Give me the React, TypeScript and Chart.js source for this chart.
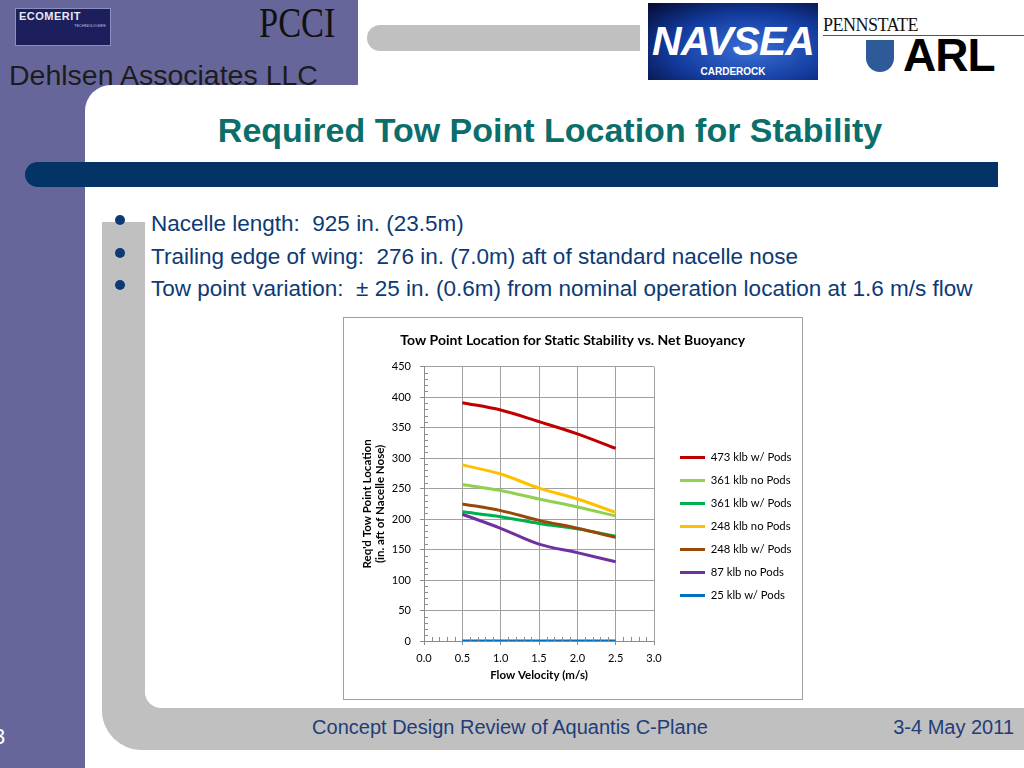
import React, { useEffect, useRef } from "react";
import { Chart, registerables } from "chart.js";

Chart.register(...registerables);

const velocities = [0.5, 1.0, 1.5, 2.0, 2.5];
const seriesNames = [
  "473 klb w/ Pods",
  "361 klb no Pods",
  "361 klb w/ Pods",
  "248 klb no Pods",
  "248 klb w/ Pods",
  "87 klb no Pods",
  "25 klb w/ Pods",
];
const s473wPods = [391, 379, 360, 340, 316];
const s361noPods = [257, 247, 233, 220, 205];
const s361wPods = [212, 204, 193, 184, 172];
const s248noPods = [289, 274, 251, 233, 211];
const s248wPods = [225, 214, 198, 185, 170];
const s87noPods = [208, 185, 159, 145, 130];
const s25wPods = [0, 0, 0, 0, 0];
const seriesValues = [s473wPods, s361noPods, s361wPods, s248noPods, s248wPods, s87noPods, s25wPods];
const seriesColors = ["#c00000", "#92d050", "#00b050", "#ffc000", "#984807", "#7030a0", "#0070c0"];

const chartTitle = "Tow Point Location for Static Stability vs. Net Buoyancy";
const yTitle = ["Req'd Tow Point Location", "(in. aft of Nacelle Nose)"];
const xTitle = "Flow Velocity (m/s)";

const bullets = [
  "Nacelle length:  925 in. (23.5m)",
  "Trailing edge of wing:  276 in. (7.0m) aft of standard nacelle nose",
  "Tow point variation:  \u00b1 25 in. (0.6m) from nominal operation location at 1.6 m/s flow",
];

const FONT = "Lato, 'Open Sans', sans-serif";

const minorTicks = {
  id: "minorTicks",
  afterDatasetsDraw(chart: any) {
    const { ctx, scales } = chart;
    const x = scales.x;
    const y = scales.y;
    ctx.save();
    ctx.strokeStyle = "#8c8c8c";
    ctx.lineWidth = 1;
    ctx.beginPath();
    for (let v = 0; v <= 450; v += 10) {
      if (v % 50 === 0) continue;
      const py = Math.round(y.getPixelForValue(v)) + 0.5;
      ctx.moveTo(x.left, py);
      ctx.lineTo(x.left + 4, py);
    }
    for (let i = 0; i <= 30; i++) {
      if (i % 5 === 0) continue;
      const px = Math.round(x.getPixelForValue(i / 10)) + 0.5;
      ctx.moveTo(px, y.bottom);
      ctx.lineTo(px, y.bottom - 4);
    }
    ctx.stroke();
    ctx.restore();
  },
};

function TowChart() {
  const ref = useRef<HTMLCanvasElement>(null);
  useEffect(() => {
    if (!ref.current) return;
    const n = seriesNames.length;
    const chart = new Chart(ref.current, {
      type: "line",
      data: {
        datasets: seriesNames.map((name, i) => ({
          label: name,
          data: velocities.map((v, j) => ({ x: v, y: seriesValues[i][j] })),
          borderColor: seriesColors[i],
          backgroundColor: seriesColors[i],
          borderWidth: 3,
          pointRadius: 0,
          tension: 0.35,
          order: n - i,
        })),
      },
      plugins: [minorTicks],
      options: {
        animation: false,
        responsive: false,
        maintainAspectRatio: false,
        layout: { padding: { left: 0, right: 0.5, top: 0, bottom: 15 } },
        plugins: {
          title: {
            display: true,
            text: chartTitle,
            color: "#000",
            font: { family: FONT, size: 14, weight: "bold" },
            padding: { top: 14, bottom: 18 },
          },
          tooltip: { enabled: false },
          legend: {
            position: "right",
            maxWidth: 220,
            title: {
              display: true,
              text: " ",
              font: { family: FONT, size: 10, lineHeight: 1.2 },
              padding: { top: 39, bottom: 0 },
            },
            labels: {
              boxWidth: 25,
              boxHeight: 3,
              padding: 11.7,
              color: "#000",
              font: { family: FONT, size: 11.3 },
              sort: (a: any, b: any) => a.datasetIndex - b.datasetIndex,
              generateLabels: (c: any) =>
                Chart.defaults.plugins.legend.labels.generateLabels(c).map((l: any) => ({ ...l, lineWidth: 0 })),
            },
          },
        },
        scales: {
          x: {
            type: "linear",
            min: 0,
            max: 3,
            afterFit: (s: any) => {
              s.height = 43;
            },
            ticks: {
              stepSize: 0.5,
              color: "#000",
              padding: 7,
              font: { family: FONT, size: 11 },
              callback: (v: any) => Number(v).toFixed(1),
            },
            grid: { color: "#a0a0a0", lineWidth: 1, tickLength: 4, tickColor: "#8c8c8c" },
            border: { color: "#8c8c8c" },
            title: {
              display: true,
              text: xTitle,
              color: "#000",
              font: { family: FONT, size: 11.5, weight: "bold" },
              padding: { top: 0, bottom: 2 },
            },
          },
          y: {
            type: "linear",
            min: 0,
            max: 450,
            afterFit: (s: any) => {
              s.width = 80;
            },
            ticks: {
              stepSize: 50,
              color: "#000",
              padding: 9,
              font: { family: FONT, size: 11 },
            },
            grid: { color: "#a0a0a0", lineWidth: 1, tickLength: 4, tickColor: "#8c8c8c" },
            border: { color: "#8c8c8c" },
            title: {
              display: true,
              text: yTitle,
              color: "#000",
              font: { family: FONT, size: 11.5, weight: "bold", lineHeight: 1.2 },
              padding: { top: 16, bottom: 0 },
            },
          },
          gap: {
            position: "right",
            display: true,
            afterFit: (s: any) => {
              s.width = 14.3;
            },
            ticks: { display: false },
            grid: { display: false, drawTicks: false },
            border: { display: false },
          },
        },
      } as any,
    });
    return () => chart.destroy();
  }, []);
  return <canvas ref={ref} width={458} height={381} style={{ display: "block", width: 458, height: 381 }} />;
}

const abs = (l: number, t: number, w: number, h: number, extra: React.CSSProperties = {}): React.CSSProperties => ({
  position: "absolute",
  left: l,
  top: t,
  width: w,
  height: h,
  ...extra,
});

export default function App() {
  const purple = "#67669a";
  const grey = "#c0c0c0";
  const sans = "'Liberation Sans', Arial, sans-serif";
  return (
    <div style={{ position: "absolute", left: 0, top: 0, width: 1024, height: 768, overflow: "hidden", background: "#fff", fontFamily: sans }}>
      <div style={abs(0, 0, 358, 120, { background: purple })} />
      <div style={abs(0, 0, 85, 768, { background: purple })} />
      <div style={abs(85, 85, 939, 683, { background: "#fff", borderTopLeftRadius: 26 })} />
      {/* grey top bar */}
      <div style={abs(367, 25, 273, 26, { background: grey, borderTopLeftRadius: 24, borderBottomLeftRadius: 24 })} />
      {/* grey L shape */}
      <div style={abs(102, 222, 43, 528, { background: grey, borderBottomLeftRadius: 40 })} />
      <div style={abs(102, 708, 922, 42, { background: grey, borderBottomLeftRadius: 40 })} />
      <div style={abs(145, 690, 20, 18, { background: grey })} />
      <div style={abs(145, 660, 60, 48, { background: "#fff", borderBottomLeftRadius: 16 })} />
      {/* blue bar */}
      <div style={abs(25, 162, 973, 25, { background: "#043366", borderTopLeftRadius: 14, borderBottomLeftRadius: 14 })} />
      {/* logos */}
      <div style={abs(15, 8, 96, 38, { background: "#1c1f5c", border: "1px solid #8a8fc0", boxSizing: "border-box" })}>
        <div style={{ position: "absolute", left: 3, top: 1, color: "#e8e8f4", fontSize: 11, fontWeight: "bold", letterSpacing: 0.5 }}>ECOMERIT</div>
        <div style={{ position: "absolute", left: 58, top: 14, color: "#c8c8e0", fontSize: 4 }}>TECHNOLOGIES</div>
      </div>
      <div style={abs(259, 0, 120, 46, { fontFamily: "'Liberation Serif', serif", fontSize: 43, color: "#111", lineHeight: "46px", transform: "scaleX(0.8)", transformOrigin: "left top" })}>PCCI</div>
      <div style={abs(9, 58, 360, 34, { fontSize: 28.5, color: "#1c1c1c", lineHeight: "34px" })}>Dehlsen Associates LLC</div>
      <div style={abs(648, 3, 170, 77, { background: "radial-gradient(ellipse at 60% 60%, #3a6fd8 0%, #123a9c 55%, #050a30 100%)" })}>
        <div style={{ position: "absolute", left: 4, top: 16, width: 162, textAlign: "center", color: "#fff", fontSize: 41, fontWeight: "bold", fontStyle: "italic", letterSpacing: -1, lineHeight: "44px" }}>NAVSEA</div>
        <div style={{ position: "absolute", left: 0, top: 63, width: 170, textAlign: "center", color: "#fff", fontSize: 10, fontWeight: "bold" }}>CARDEROCK</div>
      </div>
      <div style={abs(823, 14, 100, 22, { fontFamily: "'Liberation Serif', serif", fontSize: 18, color: "#111", lineHeight: "22px", letterSpacing: -0.5 })}>PENNSTATE</div>
      <div style={abs(823, 35, 201, 1, { background: "#555" })} />
      <div style={abs(866, 40, 28, 32, { background: "#2e5a9a", borderBottomLeftRadius: 14, borderBottomRightRadius: 14 })} />
      <div style={abs(903, 30, 110, 50, { fontSize: 46, fontWeight: "bold", color: "#000", lineHeight: "50px", letterSpacing: -1 })}>ARL</div>
      {/* title */}
      <div style={abs(85, 106, 930, 48, { textAlign: "center", color: "#0b6e6b", fontSize: 34, fontWeight: "bold", lineHeight: "48px" })}>
        Required Tow Point Location for Stability
      </div>
      {/* bullets */}
      {bullets.map((b, i) => (
        <React.Fragment key={i}>
          <div style={abs(115, 215 + i * 32.5, 10, 10, { background: "#0d3a75", borderRadius: 5 })} />
          <div style={abs(151, 209 + i * 32.5, 870, 30, { fontSize: 22.5, color: "#0d3a75", lineHeight: "30px", whiteSpace: "pre" })}>{b}</div>
        </React.Fragment>
      ))}
      {/* chart */}
      <div style={abs(343, 317, 460, 383, { border: "1px solid #a0a0a0", boxSizing: "border-box", background: "#fff" })}>
        <TowChart />
      </div>
      {/* footer */}
      <div style={abs(250, 713, 520, 28, { textAlign: "center", fontSize: 20, color: "#1f3d7a", lineHeight: "28px" })}>
        Concept Design Review of Aquantis C-Plane
      </div>
      <div style={abs(860, 713, 154, 28, { textAlign: "right", fontSize: 20, color: "#1f3d7a", lineHeight: "28px" })}>
        3-4 May 2011
      </div>
      <div style={abs(-7, 722, 20, 30, { fontSize: 22, color: "#fff", lineHeight: "30px" })}>3</div>
    </div>
  );
}
